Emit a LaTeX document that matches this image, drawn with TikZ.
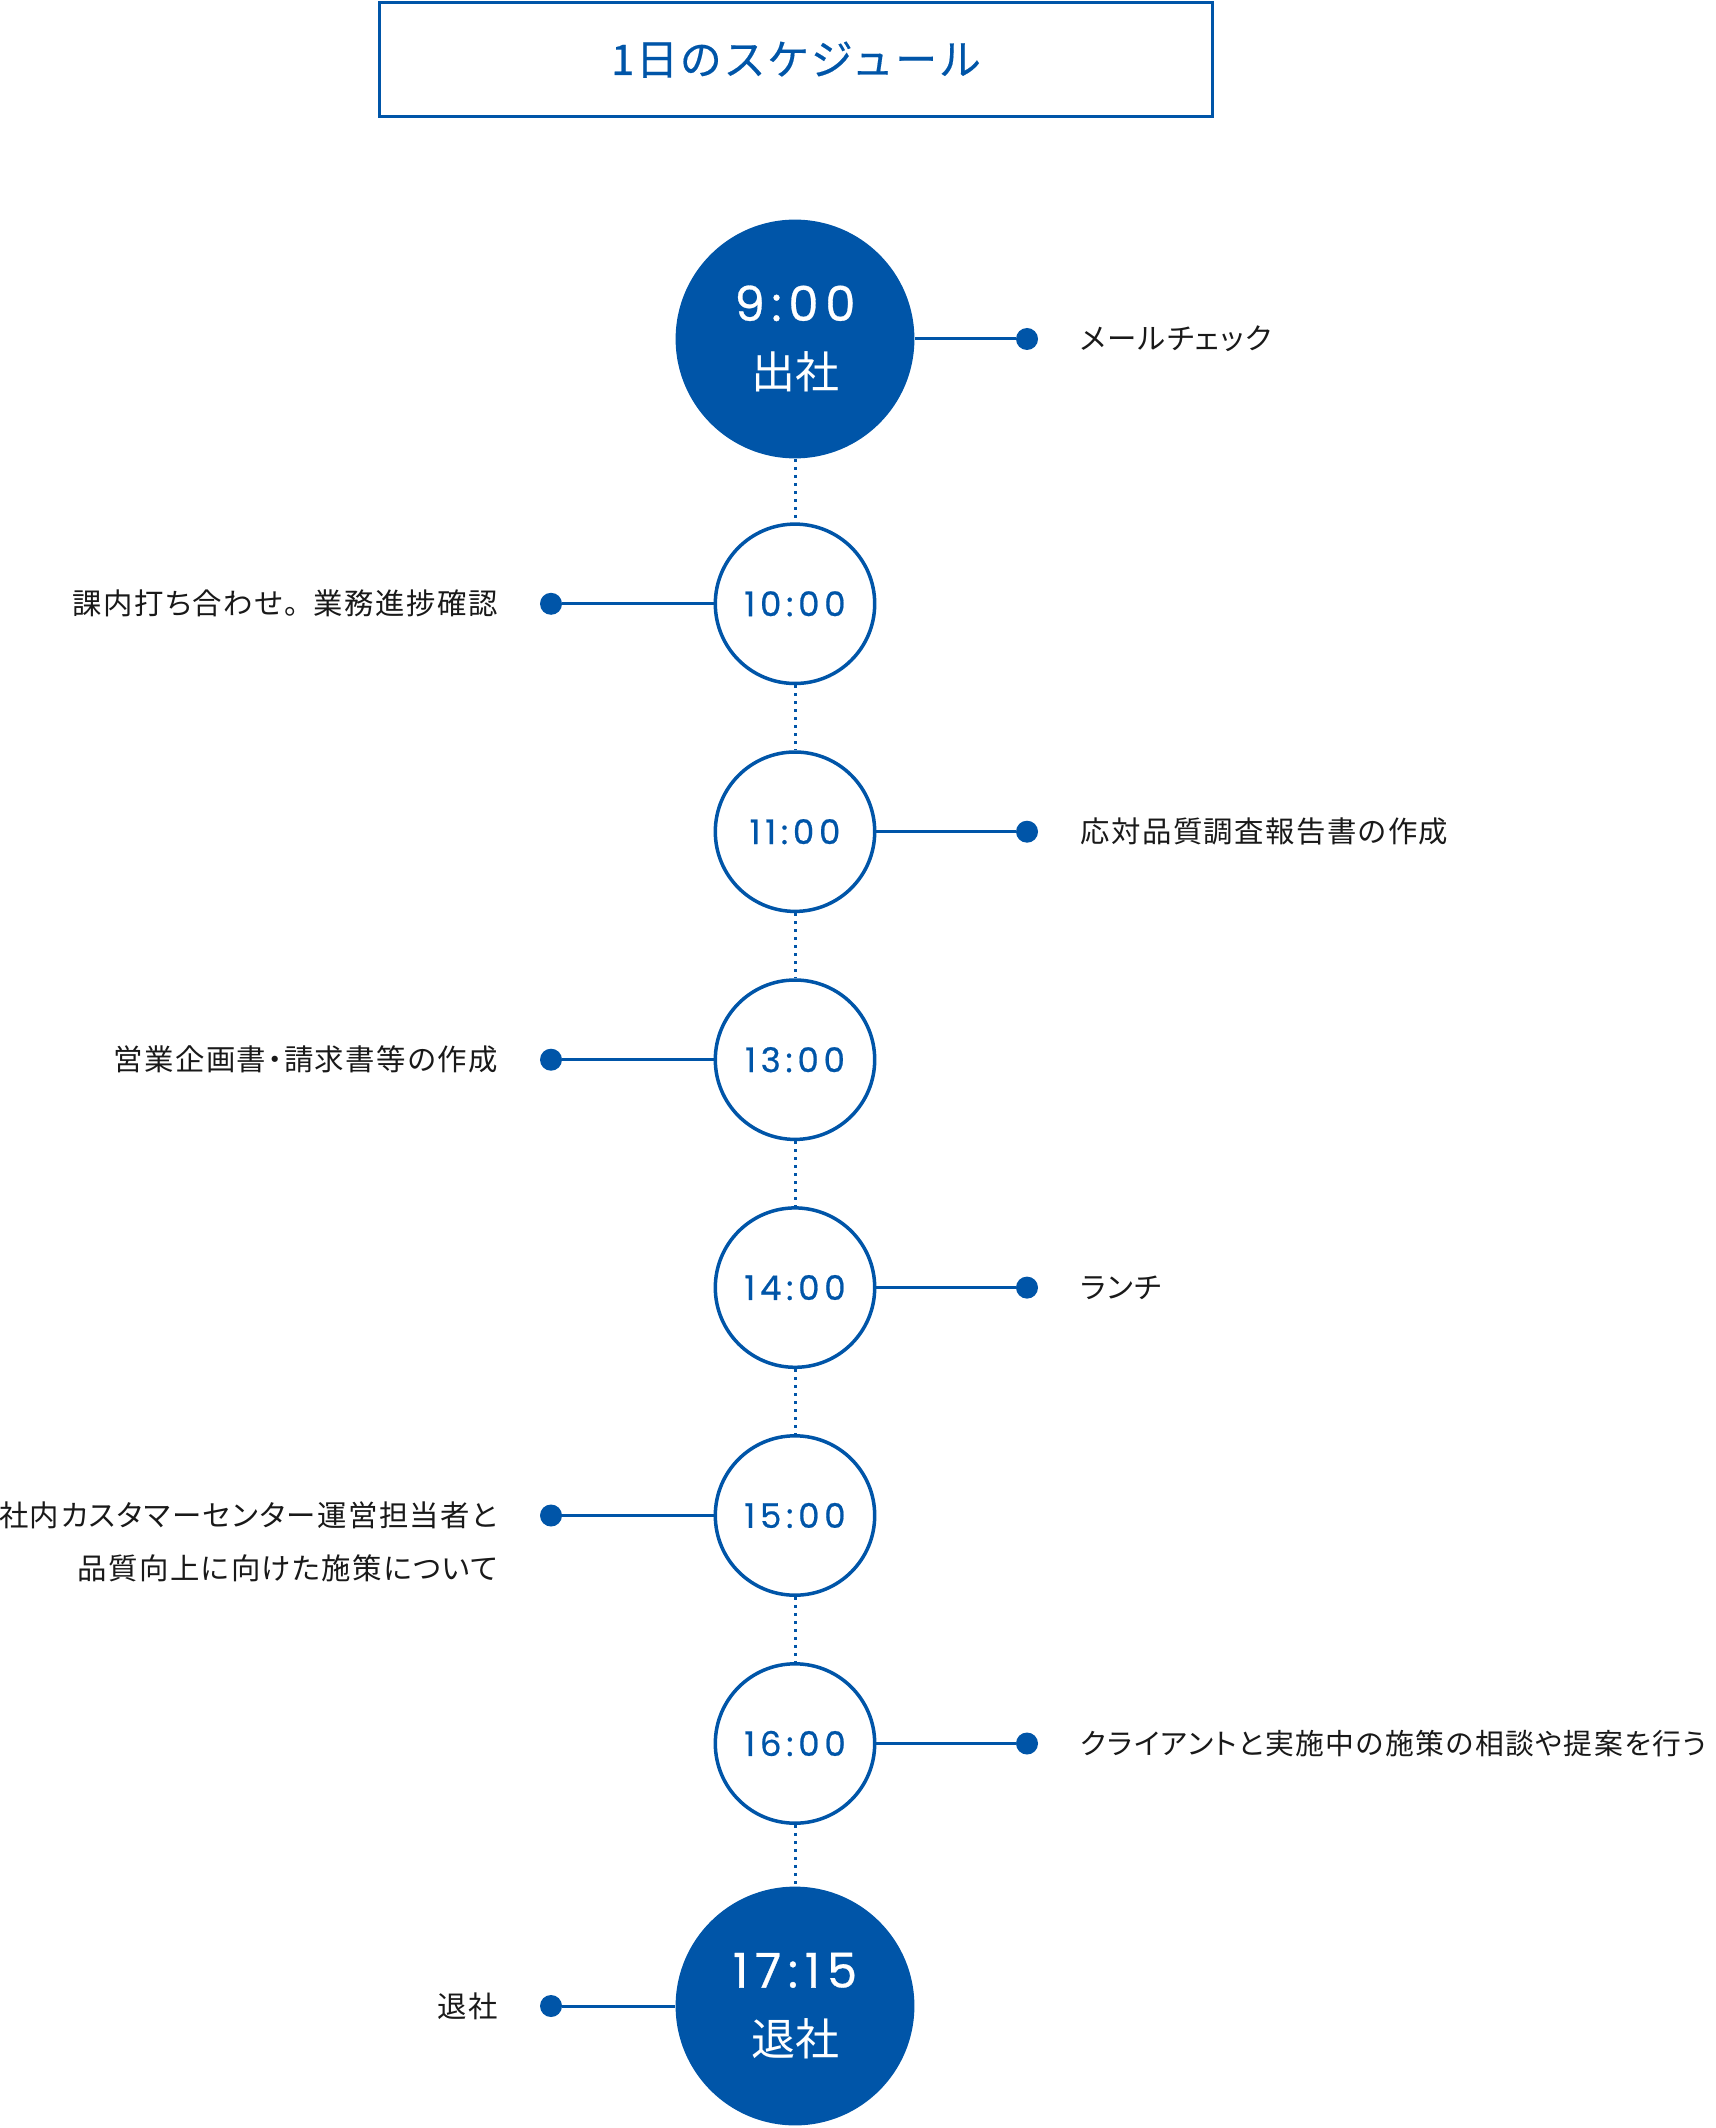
\documentclass[tikz,border=0pt]{standalone}
\usepackage{fontspec}
\setmainfont{Noto Sans CJK JP}
\newfontfamily\timefont[LetterSpace=14,FakeBold=0.6]{Poppins}
\newfontfamily\titlefont[LetterSpace=4,FakeBold=0.4]{Noto Sans CJK JP}
\newfontfamily\notefont[RawFeature=+palt,LetterSpace=5]{Noto Sans CJK JP}
\definecolor{schedblue}{RGB}{0,85,168}
\tikzset{
  sched title/.style={draw=schedblue,line width=1.5pt,text=schedblue,minimum width=416.5pt,minimum height=56.8pt,inner sep=0pt,font=\titlefont\fontsize{21}{25}\selectfont},
  sched big/.style={circle,fill=schedblue,text=white,minimum size=119.4pt,inner sep=0pt,align=center,font=\fontsize{22}{34}\selectfont},
  sched stop/.style={circle,draw=schedblue,line width=1.75pt,fill=white,text=schedblue,minimum size=79.7pt,inner sep=0pt,font=\timefont\fontsize{17}{20}\selectfont},
  sched link/.style={draw=schedblue,line width=1.5pt},
  sched spine/.style={draw=schedblue,line width=1.5pt,dash pattern=on 1.5pt off 2.5pt},
  sched dot/.style={circle,fill=schedblue,inner sep=0pt,minimum size=11pt},
  sched note/.style={font=\notefont\fontsize{14.7}{26.75}\selectfont,text=black!90,inner sep=0pt}
}

\begin{document}
\begin{tikzpicture}[x=0.5pt,y=-0.5pt]
  \useasboundingbox (0,0) rectangle (1715,2128);
  \node[sched title] (title) at (796,59.7) {1日のスケジュール};

  % start and end of the day
  \node[sched big] (t900) at (795,339) {{\timefont\fontsize{24}{34}\selectfont 9:00}\\出社};
  \node[sched big] (t1715) at (795,2006) {{\timefont\fontsize{24}{34}\selectfont 17:15}\\退社};

  \foreach \n/\tm/\y in {1/10:00/603.8,2/11:00/831.7,3/13:00/1059.7,4/14:00/1287.6,5/15:00/1515.5,6/16:00/1743.5}
    \node[sched stop] (s\n) at (795,\y) {\tm};

  \foreach \a/\b in {t900/s1,s1/s2,s2/s3,s3/s4,s4/s5,s5/s6,s6/t1715}
    \draw[sched spine] (\a) -- (\b);

  % right side
  \node[sched dot] (d900) at (1027,339) {};
  \node[sched dot] (d2) at (1027,831.7) {};
  \node[sched dot] (d4) at (1027,1287.6) {};
  \node[sched dot] (d6) at (1027,1743.5) {};
  \draw[sched link] (t900) -- (d900);
  \draw[sched link] (s2) -- (d2);
  \draw[sched link] (s4) -- (d4);
  \draw[sched link] (s6) -- (d6);
  \node[sched note,anchor=west] (n900) at (1080,339) {メールチェック};
  \node[sched note,anchor=west] (n2) at (1080,831.7) {応対品質調査報告書の作成};
  \node[sched note,anchor=west] (n4) at (1080,1287.6) {ランチ};
  \node[sched note,anchor=west,font=\notefont\fontsize{14.4}{26.75}\selectfont] (n6) at (1080,1743.5) {クライアントと実施中の施策の相談や提案を行う};

  % left side
  \node[sched dot] (d1) at (551,603.8) {};
  \node[sched dot] (d3) at (551,1059.7) {};
  \node[sched dot] (d5) at (551,1515.5) {};
  \node[sched dot] (d1715) at (551,2006) {};
  \draw[sched link] (s1) -- (d1);
  \draw[sched link] (s3) -- (d3);
  \draw[sched link] (s5) -- (d5);
  \draw[sched link] (t1715) -- (d1715);
  \node[sched note,anchor=east] (n1) at (498,603.8) {課内打ち合わせ。\hspace{.5em}業務進捗確認};
  \node[sched note,anchor=east] (n3) at (498,1059.7) {営業企画書・請求書等の作成};
  \node[sched note,anchor=east,align=right] (n5) at (498,1542) {社内カスタマーセンター運営担当者と\\品質向上に向けた施策について};
  \node[sched note,anchor=east] (n1715) at (498,2006) {退社};
\end{tikzpicture}
\end{document}
